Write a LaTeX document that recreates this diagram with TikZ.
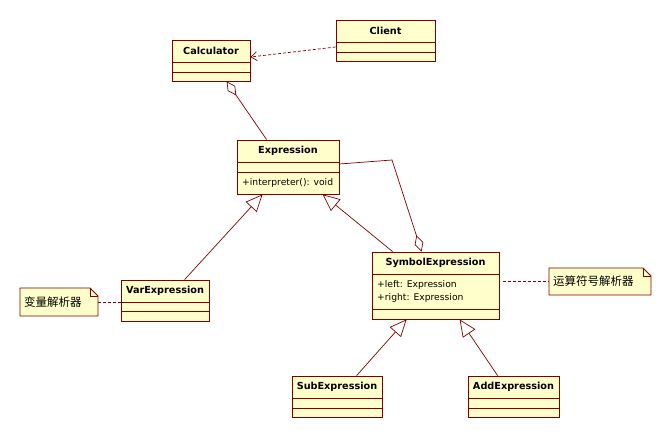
\documentclass[tikz,border=0pt]{standalone}
\usepackage{fontspec}
\setmainfont{DejaVu Sans}
\newfontfamily\cjk{Noto Sans CJK SC}
\usetikzlibrary{arrows.meta,fit}
\definecolor{bd}{HTML}{800000}
\definecolor{fl}{HTML}{FFFFCC}
\newcommand\umlclass[8]{%
  \node[cls, fit={(#2,#3) (#4,#5)}] (#1) {};
  \draw[bd, line width=0.8pt] (#2,#6) -- (#4,#6) (#2,#7) -- (#4,#7);
  \node[ttl] (#1-t) at ({(#2+#4)/2},{(#3+#6)/2}) {#8};
}
\newcommand\notebox[6]{%
  \path[fill=fl, draw=bd, line width=0.8pt] (#2,#3) -- ({#4-8},#3) -- (#4,{#3+8}) -- (#4,#5) -- (#2,#5) -- cycle;
  \draw[bd, line width=0.8pt] ({#4-8},#3) -- ({#4-8},{#3+8}) -- (#4,{#3+8});
  \node[fit={(#2,#3) (#4,#5)}, inner sep=0pt] (#1) {};
  \node[font=\cjk\fontsize{11.5}{13}\selectfont, anchor=west, inner sep=0pt] (#1-t) at ({#2+4},{(#3+#5)/2}) {#6};
}
\begin{document}
\begin{tikzpicture}[x=1pt,y=-1pt,
  cls/.style={draw=bd, fill=fl, line width=0.8pt, inner sep=0pt},
  ttl/.style={font=\fontsize{9.7}{11}\selectfont\bfseries, inner sep=0pt},
  attr/.style={font=\fontsize{9.2}{11}\selectfont, inner sep=0pt, anchor=west},
  conn/.style={draw=bd, line width=0.7pt},
  gen/.style={conn, -{Triangle[open, length=17pt, width=15pt]}},
  agg/.style={conn, {Diamond[open, length=17pt, width=9pt]}-},
  dep/.style={conn, dash pattern=on 3pt off 2pt, -{Straight Barb[length=6pt, width=9pt]}},
  notelink/.style={conn, dash pattern=on 3pt off 2pt}]
\fill[white] (0,0) rectangle (671,438);
\useasboundingbox (0,0) rectangle (671,438);

\umlclass{calc}{172}{40}{250}{81}{62}{72}{Calculator}
\umlclass{client}{336}{20}{435}{61}{42}{52}{Client}
\umlclass{expr}{237}{140}{339}{194}{162}{172}{Expression}
\node[attr] (expr-a) at (242,183) {+interpreter(): void};
\umlclass{var}{121}{280}{209}{321}{302}{311}{VarExpression}
\umlclass{sym}{372}{252}{499}{319}{274}{309}{SymbolExpression}
\node[attr] (sym-a1) at (377,285) {+left: Expression};
\node[attr] (sym-a2) at (377,298) {+right: Expression};
\umlclass{sub}{292}{376}{382}{417}{398}{408}{SubExpression}
\umlclass{add}{468}{376}{559}{417}{398}{408}{AddExpression}

\notebox{n1}{20}{288}{98}{316}{变量解析器}
\notebox{n2}{549}{268}{651}{295}{运算符号解析器}

% dependency
\draw[dep] ([yshift=-6.5pt]client.west) -- ([yshift=3.5pt]calc.east);
% aggregations
\draw[agg] ([xshift=55pt]calc.south west) -- ([xshift=30pt]expr.north west);
\coordinate (bend) at (392,160);
\draw[agg] ([xshift=50pt]sym.north west) -- (bend) -- ([yshift=3pt]expr.east);
% generalizations
\draw[gen] ([xshift=64pt]var.north west) -- ([xshift=26pt]expr.south west);
\draw[gen] ([xshift=21pt]sym.north west) -- ([xshift=86pt]expr.south west);
\draw[gen] ([xshift=65pt]sub.north west) -- ([xshift=35pt]sym.south west);
\draw[gen] ([xshift=30pt]add.north west) -- ([xshift=88pt]sym.south west);
% note links
\draw[notelink] (n1.east) -- (var.west |- n1.east);
\coordinate (s2) at ([xshift=4pt]sym.east);
\draw[notelink] (s2 |- n2.west) -- (n2.west);
\end{tikzpicture}
\end{document}
